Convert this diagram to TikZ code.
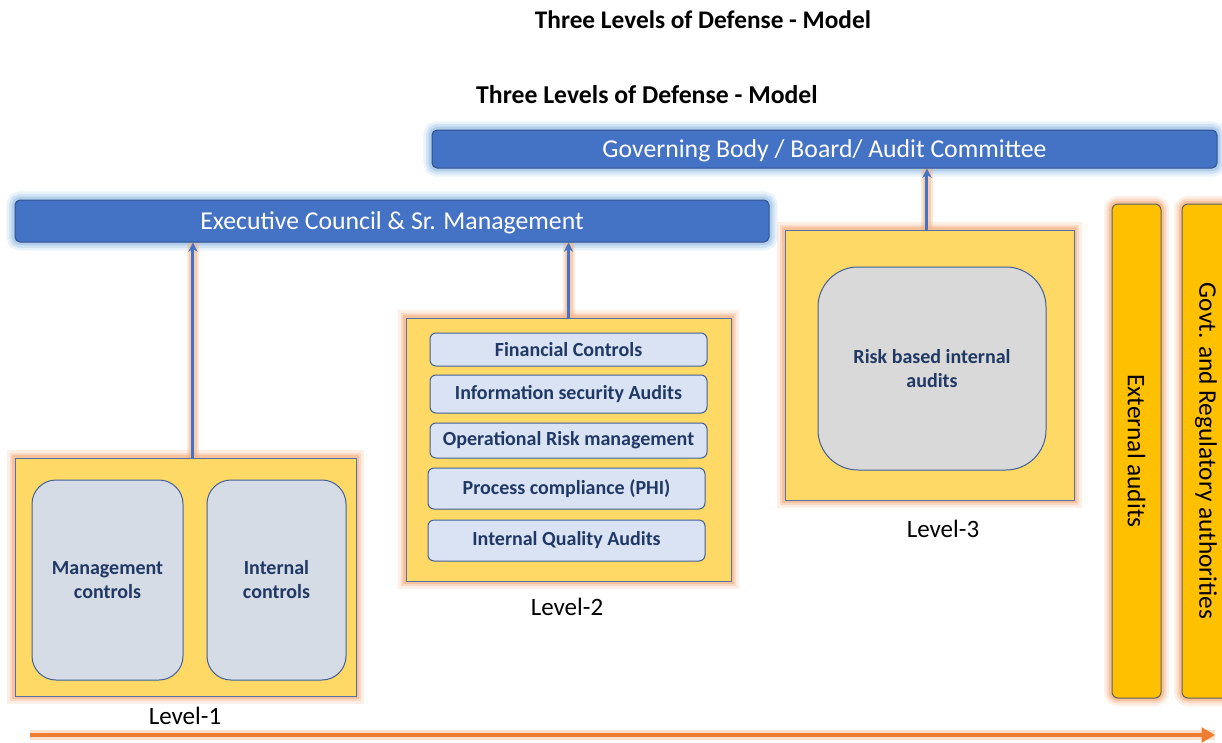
\documentclass[tikz,border=0pt]{standalone}
\usepackage{fontspec}
\setmainfont{Carlito}
\usetikzlibrary{arrows.meta}
\definecolor{barblue}{HTML}{4472C4}
\definecolor{barborder}{HTML}{2F528F}
\definecolor{glowblue}{HTML}{9DC3E6}
\definecolor{boxyellow}{HTML}{FFD966}
\definecolor{boxborder}{HTML}{5670A8}
\definecolor{glowor}{HTML}{F4B183}
\definecolor{innerA}{HTML}{D6DCE5}
\definecolor{innerB}{HTML}{DAE3F3}
\definecolor{innerC}{HTML}{D9D9D9}
\definecolor{innerborder}{HTML}{41609A}
\definecolor{navy}{HTML}{1F3864}
\definecolor{orbar}{HTML}{FFC000}
\definecolor{orbarborder}{HTML}{5F5F5F}
\definecolor{arrowor}{HTML}{ED7D31}
\tikzset{
  wh/.style 2 args={minimum width=#1*0.75pt, minimum height=#2*0.75pt, inner sep=0pt},
  glowb/.style={preaction={draw=glowblue, line width=13pt, opacity=0.2},
                preaction={draw=glowblue, line width=9pt, opacity=0.35},
                preaction={draw=glowblue, line width=5pt, opacity=0.6}},
  glowo/.style={preaction={draw=glowor, line width=12pt, opacity=0.2},
                preaction={draw=glowor, line width=8pt, opacity=0.35},
                preaction={draw=glowor, line width=4.5pt, opacity=0.6}},
  titletext/.style={font=\bfseries\fontsize{19}{22}\selectfont, inner sep=0pt},
  bar/.style={draw=barborder, fill=barblue, rounded corners=3.75pt, line width=0.75pt,
              text=white, text depth=0pt, font=\fontsize{19.3}{22}\selectfont, glowb},
  lvlbox/.style={draw=boxborder, fill=boxyellow, line width=0.75pt, glowo},
  bigin/.style={draw=innerborder, line width=0.75pt, rounded corners=18pt, text=navy,
                align=center, font=\bfseries\fontsize{15}{18}\selectfont},
  smallin/.style={draw=innerborder, fill=innerB, line width=0.75pt, rounded corners=4.5pt,
                  text=navy, font=\bfseries\fontsize{15}{17}\selectfont},
  lvllabel/.style={font=\fontsize{18.75}{22}\selectfont, inner sep=0pt},
  sidebar/.style={draw=orbarborder, fill=orbar, line width=0.75pt, rounded corners=4.5pt, glowo},
  sidetext/.style={rotate=-90, font=\fontsize{19}{22}\selectfont},
  conn/.style={draw=barblue, line width=2.25pt, -{Stealth[length=7pt,width=7pt]},
               preaction={draw=glowor, line width=9pt, opacity=0.3, -},
               preaction={draw=glowor, line width=6pt, opacity=0.5, -}},
  timeline/.style={draw=arrowor, line width=3pt, -{Triangle[length=10pt,width=11pt]},
                   preaction={draw=glowor, line width=7pt, opacity=0.4, -}}
}
\begin{document}
\begin{tikzpicture}[x=0.75pt,y=-0.75pt]
\useasboundingbox (0,0) rectangle (1222,743);
\clip (0,0) rectangle (1222,743);
% titles
\node[titletext] (t1) at (703,20) {Three Levels of Defense - Model};
\node[titletext, font=\bfseries\fontsize{19.3}{22}\selectfont] (t2) at (647,95) {Three Levels of Defense - Model};
% bars
\node[bar, wh={785}{38}] (gov) at (824.5,149) {Governing Body / Board/ Audit Committee};
\node[bar, wh={754}{42}] (exec) at (392,221) {Executive Council \& Sr. Management};
% level 1
\node[lvlbox, wh={341}{238}] (l1) at (185.5,577) {};
\node[bigin, fill=innerA, wh={151}{200}] (mc) at (107.5,580) {Management\\controls};
\node[bigin, fill=innerA, wh={139}{200}] (ic) at (276.5,580) {Internal\\controls};
\node[lvllabel] (lab1) at (185,716) {Level-1};
% level 2
\node[lvlbox, wh={325}{263}] (l2) at (568.5,449.5) {};
\node[smallin, wh={277}{33}] (b1) at (568.5,349.5) {Financial Controls};
\node[smallin, wh={277}{38}] (b2) at (568.5,394) {Information security Audits};
\node[smallin, wh={277}{35}] (b3) at (568.5,440.5) {Operational Risk management};
\node[smallin, wh={277}{41}] (b4) at (566.5,488.5) {Process compliance (PHI)};
\node[smallin, wh={277}{41}] (b5) at (566.5,540.5) {Internal Quality Audits};
\node[lvllabel] (lab2) at (567,607) {Level-2};
% level 3
\node[lvlbox, wh={289}{270}] (l3) at (929.5,365) {};
\node[bigin, fill=innerC, rounded corners=30pt, wh={228}{203}] (rb) at (932,368.5) {Risk based internal\\audits};
\node[lvllabel] (lab3) at (943,529) {Level-3};
% side bars
\node[sidebar, wh={49}{494}] (ext) at (1136.5,451) {};
\node[sidetext] (extt) at (ext.center) {External audits};
\node[sidebar, wh={48}{494}] (govt) at (1206,451) {};
\node[sidetext] (govtt) at (govt.center) {Govt. and Regulatory authorities};
% connectors
\draw[conn] ([xshift=5.6pt]l1.north) -- ([xshift=5.6pt]l1.north |- exec.south);
\draw[conn] (l2.north) -- (l2.north |- exec.south);
\draw[conn] ([xshift=-1.9pt]l3.north) -- ([xshift=-1.9pt]l3.north |- gov.south);
% timeline
\coordinate (tls) at (30,735);
\coordinate (tle) at (1215,735);
\draw[timeline] (tls) -- (tle);
\end{tikzpicture}
\end{document}
